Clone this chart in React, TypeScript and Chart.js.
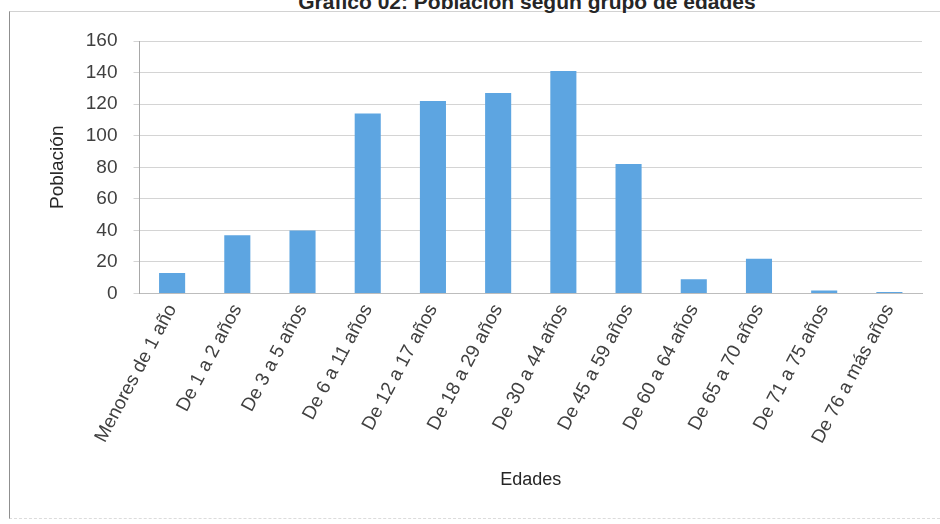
import React, { useEffect, useRef } from "react";
import { Chart, registerables } from "chart.js";

Chart.register(...registerables);

const titleText = "Gráfico 02: Población según grupo de edades";
const xTitle = "Edades";
const yTitle = "Población";
const categories = [
  "Menores de 1 año",
  "De 1 a 2 años",
  "De 3 a 5 años",
  "De 6 a 11 años",
  "De 12 a 17 años",
  "De 18 a 29 años",
  "De 30 a 44 años",
  "De 45 a 59 años",
  "De 60 a 64 años",
  "De 65 a 70 años",
  "De 71 a 75 años",
  "De 76 a más años",
];
const values = [13, 37, 40, 114, 122, 127, 141, 82, 9, 22, 2, 1];
const yMin = 0;
const yMax = 160;
const yStep = 20;

export default function App() {
  const canvasRef = useRef<HTMLCanvasElement | null>(null);

  useEffect(() => {
    document.body.style.margin = "0";
    const canvas = canvasRef.current;
    if (!canvas) return;
    const chart = new Chart(canvas, {
      type: "bar",
      data: {
        labels: categories,
        datasets: [
          {
            label: yTitle,
            data: values,
            backgroundColor: "#5DA5E1",
            borderWidth: 0,
            categoryPercentage: 0.8,
            barPercentage: 0.5,
          },
        ],
      },
      options: {
        animation: false,
        responsive: false,
        maintainAspectRatio: false,
        layout: { padding: { left: 0, right: 18, top: 41, bottom: 0 } },
        plugins: {
          legend: { display: false },
          tooltip: { enabled: false },
          title: { display: false },
        },
        scales: {
          x: {
            grid: { display: false, drawTicks: false },
            border: { display: true, color: "#bdbdbd", width: 1 },
            ticks: {
              minRotation: 62,
              maxRotation: 62,
              padding: 7,
              color: "#404040",
              font: { family: "'Liberation Sans', Arial, sans-serif", size: 19 },
              autoSkip: false,
            },
            title: {
              display: true,
              text: xTitle,
              color: "#262626",
              font: { family: "'Liberation Sans', Arial, sans-serif", size: 18 },
              padding: { top: 15, bottom: 33 },
            },
          },
          y: {
            min: yMin,
            max: yMax,
            grid: { color: "#d4d4d4", tickLength: 6, lineWidth: 1 },
            border: { display: true, color: "#a8a8a8", width: 1 },
            ticks: {
              stepSize: yStep,
              padding: 16,
              color: "#404040",
              font: { family: "'Liberation Sans', Arial, sans-serif", size: 19 },
            },
            title: {
              display: true,
              text: yTitle,
              color: "#262626",
              font: { family: "'Liberation Sans', Arial, sans-serif", size: 19 },
              padding: { top: 46, bottom: 1 },
            },
          },
        },
      },
    });
    return () => chart.destroy();
  }, []);

  return (
    <div
      style={{
        position: "relative",
        width: 940,
        height: 524,
        overflow: "hidden",
        background: "#ffffff",
      }}
    >
      <div
        style={{
          position: "absolute",
          left: 9,
          top: 11,
          width: 931,
          height: 508,
          borderLeft: "1.5px solid #8f8f8f",
          borderTop: "1px solid #d2d2d2",
          borderBottom: "1px dashed #dcdcdc",
          boxSizing: "border-box",
        }}
      />
      <div
        style={{
          position: "absolute",
          left: 0,
          width: 1054,
          top: -9,
          textAlign: "center",
          fontFamily: "'Liberation Sans', Arial, sans-serif",
          fontWeight: "bold",
          fontSize: 21,
          lineHeight: "21px",
          color: "#262626",
          whiteSpace: "nowrap",
        }}
      >
        {titleText}
      </div>
      <canvas
        ref={canvasRef}
        width={940}
        height={524}
        style={{ position: "absolute", left: 0, top: 0, width: 940, height: 524 }}
      />
    </div>
  );
}
